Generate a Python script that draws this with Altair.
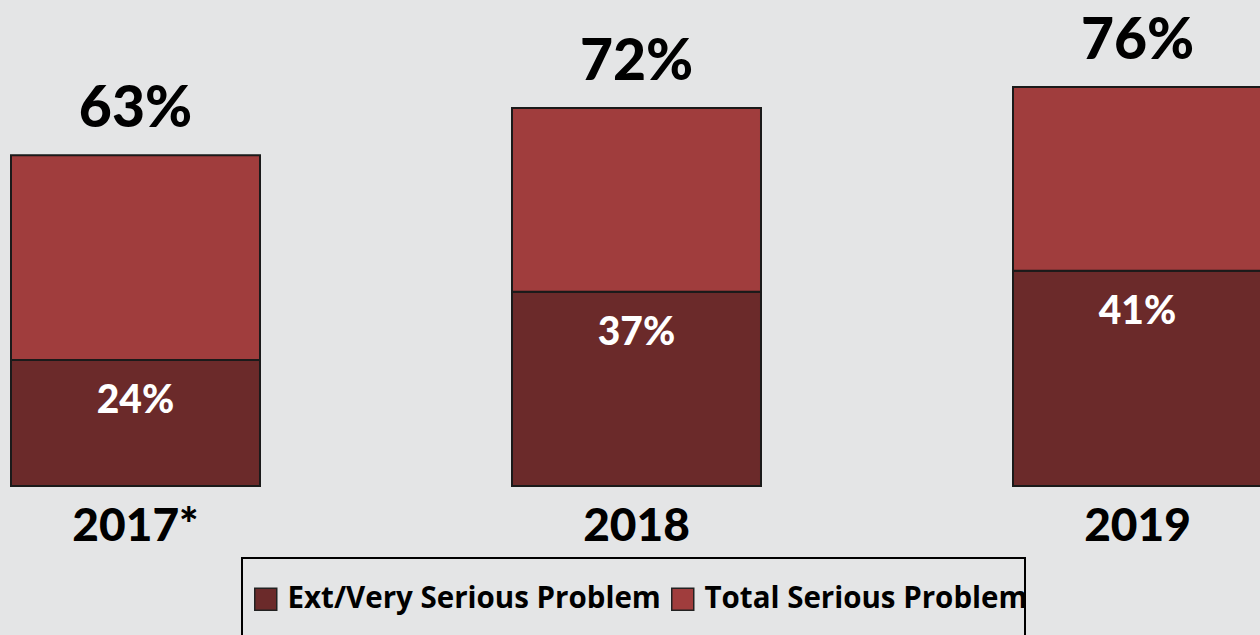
import altair as alt
import pandas as pd

years = ["2017*", "2018", "2019"]
ext_very = [24, 37, 41]
total = [63, 72, 76]
series = ["Ext/Very Serious Problem", "Total Serious Problem"]
colors = ["#6b2a2a", "#a03d3d"]

rows = []
for y, e, t in zip(years, ext_very, total):
    rows.append({"year": y, "series": series[0], "start": 0, "end": e})
    rows.append({"year": y, "series": series[1], "start": e, "end": t})
bars_df = pd.DataFrame(rows)
labels_df = pd.DataFrame({
    "year": years,
    "ext": ext_very,
    "total": total,
    "ext_lbl": [f"{v}%" for v in ext_very],
    "total_lbl": [f"{v}%" for v in total],
    "zero": [0, 0, 0],
})

FONT = "Lato"
x_enc = alt.X("year:N", sort=years, axis=None,
              scale=alt.Scale(range=[11, 1262], paddingInner=0.503, paddingOuter=0))
y_scale = alt.Scale(domain=[0, 100], range=[486, -39], nice=False, zero=False)

bars = alt.Chart(bars_df).mark_bar(stroke="#1a1a1a", strokeWidth=2).encode(
    x=x_enc,
    y=alt.Y("start:Q", scale=y_scale, axis=None),
    y2="end:Q",
    color=alt.Color("series:N", sort=series,
                    scale=alt.Scale(domain=series, range=colors),
                    legend=alt.Legend(title=None, orient="none", legendX=251, legendY=584,
                                      direction="horizontal", symbolType="square",
                                      symbolSize=484, symbolStrokeColor="#222222",
                                      symbolStrokeWidth=1.5, symbolOpacity=1,
                                      labelFont="Open Sans", labelFontSize=29.5, labelFontWeight="bold",
                                      labelColor="black", labelOffset=7, columnPadding=7,
                                      labelLimit=500, padding=0)),
    order=alt.Order("start:Q"),
)

total_text = alt.Chart(labels_df).mark_text(
    font=FONT, fontSize=57, fontWeight=900, color="black",
    baseline="alphabetic", dy=-28
).encode(x=x_enc, y=alt.Y("total:Q", scale=y_scale), text="total_lbl:N")

ext_text = alt.Chart(labels_df).mark_text(
    font=FONT, fontSize=39, fontWeight=900, color="white",
    baseline="alphabetic", dy=53
).encode(x=x_enc, y=alt.Y("ext:Q", scale=y_scale), text="ext_lbl:N")

year_text = alt.Chart(labels_df).mark_text(
    font=FONT, fontSize=46, fontWeight=900, color="black",
    baseline="alphabetic", dy=55
).encode(x=x_enc, y=alt.Y("zero:Q", scale=y_scale), text="year:N")

frame = alt.Chart(labels_df).mark_rect(
    fill=None, stroke="black", strokeWidth=2
).encode(x=alt.value(242), x2=alt.value(1025), y=alt.value(558), y2=alt.value(680))

chart = alt.layer(bars, total_text, ext_text, year_text, frame).properties(
    width=1260, height=635, autosize=alt.AutoSizeParams(type="none"), padding=0,
    background="#e4e5e6",
).configure_view(stroke=None)

chart.save("out.html", embed_options={"renderer": "svg", "actions": False})
